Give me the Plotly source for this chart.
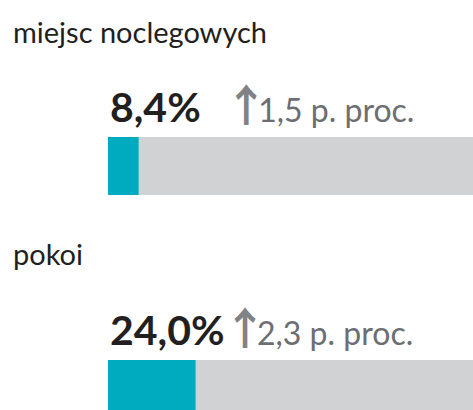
import plotly.graph_objects as go

categories = ["miejsc noclegowych", "pokoi"]
shares = [8.4, 24.0]
share_labels = ["8,4%", "24,0%"]
changes = ["1,5 p. proc.", "2,3 p. proc."]
total = [100, 100]

W, H = 473, 410
rows = list(range(len(categories)))
TEAL = "#00AABF"
GRAY_BAR = "#D1D2D4"
DARK = "#231F20"
GRAY_TXT = "#6D6E71"
ARROW = "#808285"
FONT = "Lato"

# spacing between value and change, in px of letter-spacing (layout only)
gap_px = [13, -12]

fig = go.Figure()
fig.add_trace(go.Bar(y=rows, x=total, orientation="h", width=0.26,
                     marker=dict(color=GRAY_BAR, line=dict(width=0)),
                     hoverinfo="skip"))
fig.add_trace(go.Bar(y=rows, x=shares, orientation="h", width=0.26,
                     marker=dict(color=TEAL, line=dict(width=0)),
                     hoverinfo="skip"))

ann = []
for i in rows:
    ann.append(dict(text=categories[i], xref="paper", x=11 / W, xanchor="left",
                    yref="y", y=i, yanchor="middle", yshift=135,
                    showarrow=False, font=dict(family=FONT, size=29, color=DARK)))
    txt = ("<b>" + share_labels[i] + "</b>"
           + "<span style='letter-spacing:" + str(gap_px[i]) + "px'>\u00a0</span>"
           + "<span style='font-family:\"Noto Sans CJK SC\";font-size:44px;font-weight:bold;"
           + "letter-spacing:-10px;color:" + ARROW + "'>↑</span>"
           + "<span style='font-size:32px;color:" + GRAY_TXT + "'>" + changes[i] + "</span>")
    ann.append(dict(text=txt, xref="x domain", x=0,
                    xanchor="left", yref="y", y=i, yanchor="middle", yshift=63,
                    showarrow=False, font=dict(family=FONT, size=41, color=DARK)))

fig.update_layout(
    width=W, height=H, margin=dict(l=0, r=0, t=0, b=0),
    paper_bgcolor="white", plot_bgcolor="white",
    barmode="overlay", showlegend=False, hovermode=False,
    xaxis=dict(range=[0, 100], domain=[108 / W, 1], visible=False, fixedrange=True),
    yaxis=dict(range=[1.0942, -0.7444], visible=False, fixedrange=True),
    annotations=ann,
)
fig.write_html("out.html", config={"displayModeBar": False},
               post_script="document.body.style.margin='0';document.body.style.overflow='hidden';")
